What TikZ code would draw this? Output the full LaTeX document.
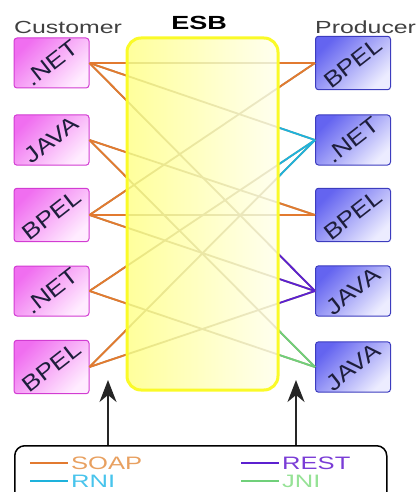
\documentclass[tikz,border=0pt]{standalone}
\usepackage{fontspec}
\setmainfont{Liberation Sans}
\usetikzlibrary{arrows.meta}
\definecolor{soap}{RGB}{226,122,48}
\definecolor{rni}{RGB}{30,178,220}
\definecolor{rest}{RGB}{92,32,208}
\definecolor{jni}{RGB}{112,208,122}
\definecolor{soapL}{RGB}{232,160,96}
\definecolor{rniL}{RGB}{72,196,236}
\definecolor{restL}{RGB}{122,60,214}
\definecolor{jniL}{RGB}{150,226,150}
\definecolor{midline}{RGB}{165,150,110}
\definecolor{custB}{RGB}{210,60,210}
\definecolor{custT}{RGB}{240,110,240}
\definecolor{custL}{RGB}{255,236,255}
\definecolor{prodB}{RGB}{60,60,190}
\definecolor{prodT}{RGB}{100,100,240}
\definecolor{prodL}{RGB}{236,236,255}
\definecolor{boxtxt}{RGB}{30,30,60}
\definecolor{esbY}{RGB}{250,250,40}
\newcommand{\wide}[1]{\scalebox{1.42}[1]{#1}}
\newcommand{\diag}[1]{\rotatebox{38}{\scalebox{1.2}[1]{#1}}}
\begin{document}
\begin{tikzpicture}[x=1pt,y=-1pt,
  cust/.style={rectangle, rounded corners=3pt, minimum width=75pt, minimum height=50pt,
    inner sep=0pt, draw=custB, line width=1pt, top color=custT, bottom color=custL,
    shading angle=45, text=boxtxt, font=\fontsize{22}{22}\selectfont},
  prod/.style={cust, draw=prodB, top color=prodT, bottom color=prodL, shading angle=45},
  conn/.style={line width=1.8pt},
  title/.style={font=\fontsize{17.5}{17.5}\selectfont, text=black!75, inner sep=0pt, anchor=west},
  legtxt/.style={font=\fontsize{18}{18}\selectfont, inner sep=0pt, anchor=west},
  bigarrow/.style={line width=2pt, black!85, -{Stealth[length=22pt, width=17pt, inset=7pt]}}
]
\useasboundingbox (0,0) rectangle (416,492);

% customers
\node[cust] (c1) at (51.5,63)  {\diag{.NET}};
\node[cust] (c2) at (51.5,140) {\diag{JAVA}};
\node[cust] (c3) at (51.5,215) {\diag{BPEL}};
\node[cust] (c4) at (51.5,291) {\diag{.NET}};
\node[cust] (c5) at (51.5,367) {\diag{BPEL}};
% producers
\node[prod] (p1) at (353,63)  {\diag{BPEL}};
\node[prod] (p2) at (353,140) {\diag{.NET}};
\node[prod] (p3) at (353,215) {\diag{BPEL}};
\node[prod] (p4) at (353,291) {\diag{JAVA}};
\node[prod] (p5) at (353,367) {\diag{JAVA}};

% connectors: grey middle, coloured ends
\foreach \c/\p in {1/1,1/2,1/4,2/3,2/5,3/1,3/3,3/4,4/2,4/5,5/2,5/4}
  \draw[conn, midline] (c\c.east) -- (p\p.west);
\begin{scope}
  \clip (0,0) rectangle (128,492);
  \foreach \c/\p in {1/1,1/2,1/4,2/3,2/5,3/1,3/3,3/4,4/2,4/5,5/2,5/4}
    \draw[conn, soap] (c\c.east) -- (p\p.west);
\end{scope}
\begin{scope}
  \clip (277,0) rectangle (416,492);
  \foreach \c/\p/\col in {1/1/soap,1/2/rni,1/4/rest,2/3/soap,2/5/jni,3/1/soap,3/3/soap,3/4/rest,4/2/rni,4/5/jni,5/2/rni,5/4/rest}
    \draw[conn, \col] (c\c.east) -- (p\p.west);
\end{scope}

% ESB
\node[rectangle, rounded corners=14pt, minimum width=151pt, minimum height=352pt,
  draw=esbY, line width=3pt, left color=yellow!50, right color=yellow!8,
  fill opacity=0.78, draw opacity=1] (esb) at (202.5,214) {};
\node[font=\fontsize{19}{19}\selectfont\bfseries, inner sep=0pt] (esblabel) at (199,23) {\wide{ESB}};

% titles
\node[title] (custlabel) at (14,27) {\wide{Customer}};
\node[title] (prodlabel) at (315,27) {\wide{Producer}};

% legend
\node[draw=black, line width=1.5pt, rounded corners=10pt, minimum width=372pt,
  minimum height=80pt, inner sep=0pt, anchor=north west] (legend) at (14,445) {};
\node[legtxt, text=soapL] (lsoap) at (30,463) {\textcolor{soap}{\rule[0.3em]{38pt}{1.8pt}}\,\wide{SOAP}};
\node[legtxt, text=rniL] (lrni) at (30,481) {\textcolor{rni}{\rule[0.3em]{38pt}{1.8pt}}\,\wide{RNI}};
\node[legtxt, text=restL] (lrest) at (241,463) {\textcolor{rest}{\rule[0.3em]{38pt}{1.8pt}}\,\wide{REST}};
\node[legtxt, text=jniL] (ljni) at (241,481) {\textcolor{jni}{\rule[0.3em]{38pt}{1.8pt}}\,\wide{JNI}};

% arrows
\coordinate (a1) at (108,380);
\coordinate (a2) at (296,380);
\draw[bigarrow] (legend.north -| a1) -- (a1);
\draw[bigarrow] (legend.north -| a2) -- (a2);
\end{tikzpicture}
\end{document}
